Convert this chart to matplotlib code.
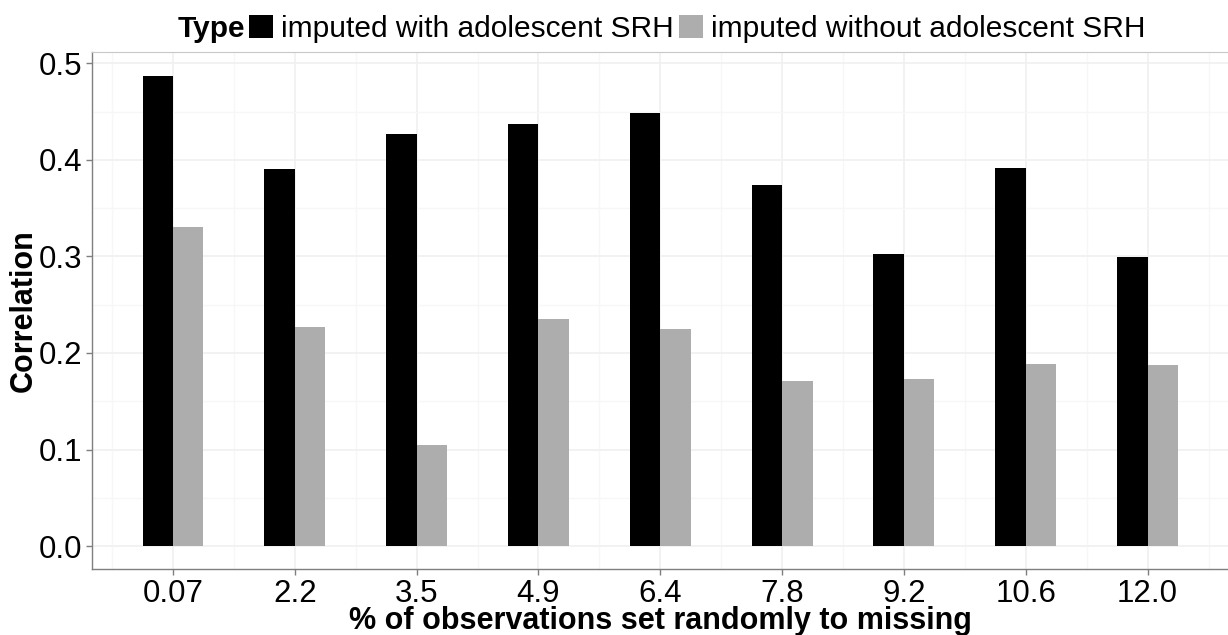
import numpy as np
import matplotlib
matplotlib.use("Agg")
from matplotlib import pyplot as plt
from matplotlib.patches import Patch

plt.rcParams['font.family'] = ['Liberation Sans', 'DejaVu Sans']

# % of observations set to missing, and correlations per imputation type
missing_pct = ["0.07", "2.2", "3.5", "4.9", "6.4", "7.8", "9.2", "10.6", "12.0"]
with_srh = [0.487, 0.391, 0.427, 0.437, 0.449, 0.374, 0.303, 0.392, 0.299]
without_srh = [0.330, 0.227, 0.105, 0.235, 0.225, 0.171, 0.173, 0.189, 0.188]
series_names = ["imputed with adolescent SRH", "imputed without adolescent SRH"]
colors = ["#000000", "#ADADAD"]

fig = plt.figure(figsize=(12.28, 6.35), dpi=100)
ax = fig.add_axes([0.0747, 0.1039, 0.9260, 0.8137])

x = np.arange(len(missing_pct))
w = 0.25
ax.bar(x - w / 2, with_srh, width=w, color=colors[0], zorder=3)
ax.bar(x + w / 2, without_srh, width=w, color=colors[1], zorder=3)

ax.set_xlim(-0.667, len(missing_pct) - 1 + 0.667)
ax.set_ylim(-0.0238, 0.5114)

# major + minor grid, very faint
ax.set_yticks(np.arange(0, 0.51, 0.1))
ax.set_yticklabels([f"{v:.1f}" for v in np.arange(0, 0.51, 0.1)])
ax.set_yticks(np.arange(0.05, 0.5, 0.1), minor=True)
ax.set_xticks(x)
ax.set_xticklabels(missing_pct)
ax.set_xticks(np.arange(-0.5, len(missing_pct), 1.0), minor=True)
ax.grid(True, which='major', color='#F0F0F0', linewidth=1.2, zorder=0)
ax.grid(True, which='minor', color='#F7F7F7', linewidth=1.0, zorder=0)

ax.tick_params(axis='both', which='major', labelsize=22.5, colors='#7F7F7F',
               labelcolor='black', length=4, width=1, pad=3)
ax.tick_params(axis='both', which='minor', length=0)

for side in ['left', 'bottom']:
    ax.spines[side].set_color('#7F7F7F')
    ax.spines[side].set_linewidth(1.0)
ax.spines['top'].set_color('#C8C8C8')
ax.spines['right'].set_visible(False)

ax.set_xlabel("% of observations set randomly to missing", fontsize=22,
              fontweight='bold', labelpad=-2)
ax.set_ylabel("Correlation", fontsize=22, fontweight='bold', labelpad=0)

# legend strip on top
handles = [Patch(facecolor=c, edgecolor='none') for c in colors]
fig.text(0.1995, 0.955, "Type", fontsize=21.5, fontweight='bold',
         ha='right', va='center')
fig.legend(handles, series_names, loc='center left', bbox_to_anchor=(0.203, 0.955),
           ncol=2, frameon=False, fontsize=21.5, handlelength=0.8, handleheight=0.8,
           handletextpad=0.25, columnspacing=0.2, borderpad=0, borderaxespad=0)

fig.savefig("out.png", dpi=100)
